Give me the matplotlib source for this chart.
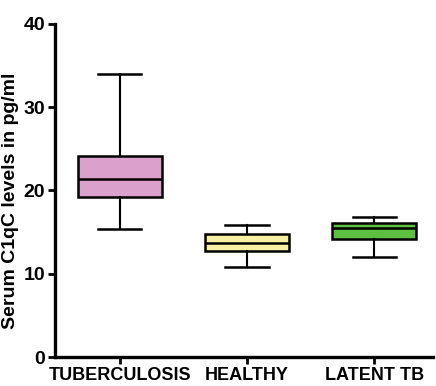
import matplotlib.pyplot as plt
from matplotlib import font_manager

groups = ['TUBERCULOSIS', 'HEALTHY', 'LATENT TB']
whisk_low = [15.4, 10.8, 12.0]
q1 = [19.2, 12.7, 14.2]
med = [21.4, 13.7, 15.5]
q3 = [24.1, 14.8, 16.1]
whisk_high = [34.0, 15.8, 16.8]
colors = ['#dca0cc', '#f6f0a2', '#5ec040']

names = {f.name for f in font_manager.fontManager.ttflist}
narrow = 'Liberation Sans Narrow' if 'Liberation Sans Narrow' in names else 'Liberation Sans'

fig = plt.figure(figsize=(4.36, 3.86), dpi=100)
ax = fig.add_axes([0.126, 0.075, 0.867, 0.863])

stats = []
for i, g in enumerate(groups):
    stats.append({'label': g, 'whislo': whisk_low[i], 'q1': q1[i], 'med': med[i],
                  'q3': q3[i], 'whishi': whisk_high[i], 'fliers': []})

bp = ax.bxp(stats, positions=[0, 1, 2], widths=0.66, patch_artist=True,
            showfliers=False,
            boxprops=dict(linewidth=1.8, edgecolor='black'),
            medianprops=dict(color='black', linewidth=1.8),
            whiskerprops=dict(color='black', linewidth=1.5),
            capprops=dict(color='black', linewidth=1.8),
            capwidths=0.34)
for patch, c in zip(bp['boxes'], colors):
    patch.set_facecolor(c)

ax.set_xlim(-0.51, 2.46)
ax.set_ylim(0, 40)
ax.set_yticks([0, 10, 20, 30, 40])
ax.spines['top'].set_visible(False)
ax.spines['right'].set_visible(False)
ax.spines['left'].set_linewidth(2.4)
ax.spines['bottom'].set_linewidth(2.4)
ax.tick_params(width=2, length=5, pad=2)
ax.set_xticks([0, 1, 2])
ax.set_xticklabels(groups, fontfamily=narrow, fontweight='bold', fontsize=13)
for lab in ax.get_yticklabels():
    lab.set_fontfamily(narrow)
    lab.set_fontweight('bold')
    lab.set_fontsize(14)
ax.set_ylabel('Serum C1qC levels in pg/ml', fontfamily='Liberation Sans',
              fontweight='bold', fontsize=14)
ax.yaxis.set_label_coords(-0.095, 0.47)

fig.savefig('out.png', dpi=100)
